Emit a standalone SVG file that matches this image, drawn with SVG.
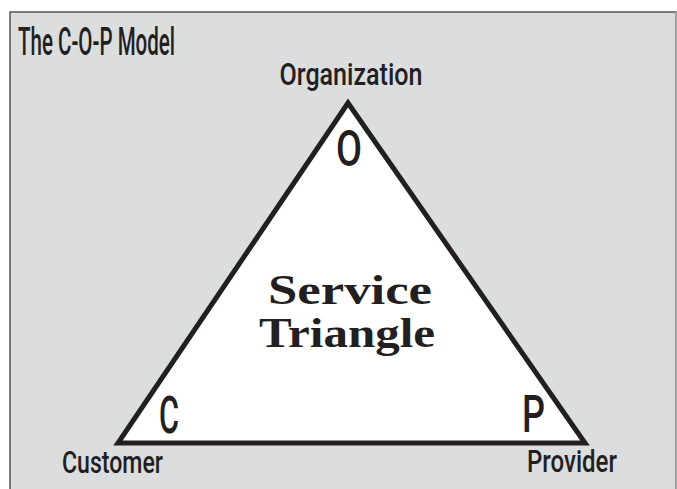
<svg xmlns="http://www.w3.org/2000/svg" width="677" height="489" viewBox="0 0 677 489">
  <style>
    .cond { font-family: Roboto, "Liberation Sans", sans-serif; font-weight: 500; fill: #231f20; }
    .serif { font-family: "Liberation Serif", "Times New Roman", serif; font-weight: bold; fill: #231f20; }
  </style>
  <!-- page background and frame -->
  <rect x="0" y="0" width="677" height="489" fill="#ffffff"/>
  <rect x="10" y="12" width="666" height="480" fill="#dcdddf" stroke="#555555" stroke-width="1.5"/>
  <line x1="676" y1="12" x2="676" y2="489" stroke="#c8c9cb" stroke-width="1"/>

  <text class="cond" x="18" y="55" font-size="38" textLength="157" lengthAdjust="spacingAndGlyphs">The C-O-P Model</text>

  <!-- service triangle -->
  <g id="triangle">
    <polygon points="348,103 118,443 585,443" fill="#ffffff" stroke="#231f20" stroke-width="5" stroke-linejoin="miter" stroke-miterlimit="10"/>
    <text class="serif" x="350" y="304" font-size="43" text-anchor="middle" textLength="164" lengthAdjust="spacingAndGlyphs">Service</text>
    <text class="serif" x="347" y="347" font-size="43" text-anchor="middle" textLength="176" lengthAdjust="spacingAndGlyphs">Triangle</text>
  </g>

  <g id="organization">
    <text class="cond" x="351" y="85" font-size="31" text-anchor="middle" textLength="143" lengthAdjust="spacingAndGlyphs">Organization</text>
    <text class="cond" x="349" y="166" font-size="50" text-anchor="middle" textLength="26" lengthAdjust="spacingAndGlyphs">O</text>
  </g>

  <g id="customer">
    <text class="cond" x="62" y="473" font-size="32" textLength="101" lengthAdjust="spacingAndGlyphs">Customer</text>
    <text class="cond" x="159" y="433" font-size="51" textLength="20" lengthAdjust="spacingAndGlyphs">C</text>
  </g>

  <g id="provider">
    <text class="cond" x="527" y="472" font-size="32" textLength="90" lengthAdjust="spacingAndGlyphs">Provider</text>
    <text class="cond" x="522" y="432" font-size="51" textLength="23" lengthAdjust="spacingAndGlyphs">P</text>
  </g>
</svg>
